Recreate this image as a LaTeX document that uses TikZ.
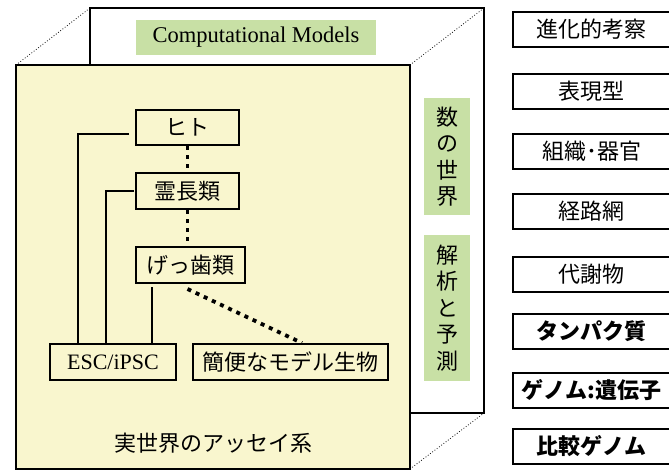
\documentclass[tikz,border=0pt]{standalone}
\usepackage{fontspec}
\setmainfont{Liberation Serif}
\newfontfamily\jp{Noto Sans CJK JP}
\usetikzlibrary{calc}
\definecolor{cubeyellow}{RGB}{249,246,206}
\definecolor{labgreen}{RGB}{200,224,165}
\begin{document}
\begin{tikzpicture}[x=1pt,y=-1pt,
  edge/.style={line width=1.3pt},
  diag/.style={line width=0.8pt,dotted},
  tbox/.style={draw,line width=2pt,inner sep=0pt,font=\jp\fontsize{22}{26}\selectfont},
  rbox/.style={tbox,fill=white,minimum width=157pt,minimum height=35pt},
  rbold/.style={rbox,font=\jp\bfseries\fontsize{22}{26}\selectfont},
  glabel/.style={fill=labgreen,inner sep=0pt},
  vlabel/.style={glabel,minimum width=46pt,align=center,font=\jp\fontsize{22}{26.5}\selectfont},
  conn/.style={line width=2pt},
  dotline/.style={line width=3.8pt,dash pattern=on 4pt off 5pt}]
\useasboundingbox (0,0) rectangle (669,471);
\clip (0,0) rectangle (669,471);
% cube
\coordinate (bTL) at (90,8); \coordinate (bBR) at (484,413);
\coordinate (fTL) at (16,65); \coordinate (fBR) at (410,469);
\draw[edge,fill=white] (bTL) rectangle (bBR);
\draw[diag] (fTL) -- (bTL);
\draw[diag] (fTL -| fBR) -- (bTL -| bBR);
\draw[diag] (fBR) -- (bBR);
\draw[edge,fill=cubeyellow] (fTL) rectangle (fBR);
% labels on back face
\node[glabel,minimum width=240pt,minimum height=35pt,font=\fontsize{22.5}{26}\selectfont] (cm) at (256,37.5) {Computational Models};
\node[vlabel,minimum height=117pt] (num) at (447,156.5) {数\\の\\世\\界};
\node[vlabel,minimum height=146pt] (ana) at (447,308) {解\\析\\と\\予\\測};
% tree
\node[tbox,minimum width=103pt,minimum height=35pt] (hito) at (187.5,127.5) {ヒト};
\node[tbox,minimum width=103pt,minimum height=36pt] (rei) at (187.5,191) {霊長類};
\node[tbox,minimum width=109pt,minimum height=36pt] (gec) at (190.5,265) {げっ歯類};
\node[tbox,minimum width=126pt,minimum height=36pt,font=\fontsize{22}{26}\selectfont] (esc) at (113,362) {ESC/iPSC};
\node[tbox,minimum width=195pt,minimum height=36pt] (kan) at (290.5,362) {簡便なモデル生物};
\node[font=\jp\fontsize{22}{26}\selectfont] (assay) at (213,443) {実世界のアッセイ系};
\draw[conn] ($(hito.west)+(-6,6.5)$) -| ($(esc.north west)+(29,0)$);
\draw[conn] ($(rei.west)+(-1,0)$) -| ($(esc.north west)+(57,0)$);
\draw[conn] ($(esc.north west)+(103,0)$) -- ($(esc.north west)+(103,-56)$);
\draw[dotline] (hito.south) -- (rei.north);
\draw[dotline] (rei.south) -- (rei.south |- gec.north);
\draw[dotline] ($(rei.south |- gec.south)+(0,5)$) -- ($(kan.north)+(11.5,0)$);
% right column
\node[rbox] (r1) at (591.5,29.5) {進化的考察};
\node[rbox] (r2) at (591.5,91) {表現型};
\node[rbox] (r3) at (591.5,151.5) {組織･器官};
\node[rbox] (r4) at (591.5,211.5) {経路網};
\node[rbox] (r5) at (591.5,274) {代謝物};
\node[rbold] (r6) at (591.5,331) {タンパク質};
\node[rbold] (r7) at (591.5,390) {ゲノム:遺伝子};
\node[rbold] (r8) at (591.5,446.5) {比較ゲノム};
\end{tikzpicture}
\end{document}
